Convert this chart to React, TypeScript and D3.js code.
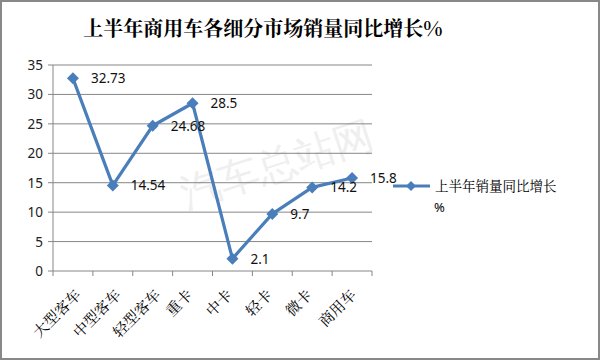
import React from "react";
import * as d3 from "d3";

const categories = ["大型客车", "中型客车", "轻型客车", "重卡", "中卡", "轻卡", "微卡", "商用车"];
const values = [32.73, 14.54, 24.68, 28.5, 2.1, 9.7, 14.2, 15.8];
const yTicks = [0, 5, 10, 15, 20, 25, 30, 35];
const title = "上半年商用车各细分市场销量同比增长%";
const seriesName = ["上半年销量同比增长", "%"];

const W = 600, H = 360;
const left = 53, right = 372, top = 65, bottom = 271;
const color = "#4A7EBB";
const serif = "'Noto Serif CJK SC','Noto Sans CJK SC', serif";
const sans = "'Noto Sans','DejaVu Sans', sans-serif";

export default function App() {
  const x = d3.scaleBand().domain(categories).range([left, right]);
  const y = d3.scaleLinear().domain([0, 35]).range([bottom, top]);
  const pts = values.map((v, i) => [x(categories[i])! + x.bandwidth() / 2, y(v)] as [number, number]);
  const line = d3.line()(pts) || "";
  const diamond = (cx: number, cy: number, r = 6) =>
    `M${cx},${cy - r}L${cx + r},${cy}L${cx},${cy + r}L${cx - r},${cy}Z`;
  const tickXs = categories.map((c) => x(c)!).concat([right]);

  return (
    <svg width={W} height={H} style={{ position: "absolute", left: 0, top: 0, background: "#fff" }}>
      <rect x={1} y={1} width={W - 2} height={H - 2} fill="#fff" stroke="#888" strokeWidth={2} />
      <text x={263} y={36} textAnchor="middle" fontFamily={serif} fontWeight="bold" fontSize={20} fill="#000">
        {title}
      </text>
      {/* watermark */}
      <text x={278} y={178} textAnchor="middle" fontFamily={sans} fontSize={40} fill="#efefef" transform="rotate(-18 278 168)">
        汽车总站网
      </text>
      {yTicks.map((t) => (
        <g key={t}>
          <line x1={left} x2={right} y1={y(t)} y2={y(t)} stroke="#868686" strokeWidth={1} />
          <line x1={left - 5} x2={left} y1={y(t)} y2={y(t)} stroke="#868686" />
          <text x={43} y={y(t) + 5} textAnchor="end" fontFamily={sans} fontSize={13.5} fill="#222">
            {t}
          </text>
        </g>
      ))}
      <line x1={left} x2={left} y1={top} y2={bottom} stroke="#868686" />
      {tickXs.map((tx, i) => (
        <line key={i} x1={tx} x2={tx} y1={bottom} y2={bottom + 5} stroke="#868686" />
      ))}
      {categories.map((c) => {
        const n = c.length;
        const cx = x(c)! + x.bandwidth() / 2 + (n - 2) * 4 + 1;
        const cy = bottom + 25;
        return (
          <text key={c} x={cx} y={cy} textAnchor="end" fontFamily={serif} fontSize={15} fill="#000"
            transform={`rotate(-45 ${cx} ${cy})`}>
            {c}
          </text>
        );
      })}
      <path d={line} fill="none" stroke={color} strokeWidth={3.2} strokeLinejoin="round" />
      {pts.map(([px, py], i) => (
        <path key={i} d={diamond(px, py)} fill={color} />
      ))}
      {pts.map(([px, py], i) => (
        <text key={"l" + i} x={px + 18} y={py + 5} fontFamily={sans} fontSize={13.5} fill="#111">
          {values[i]}
        </text>
      ))}
      {/* legend */}
      <line x1={393} x2={430} y1={186} y2={186} stroke={color} strokeWidth={3.2} />
      <path d={diamond(411, 186, 5)} fill={color} />
      <text x={435} y={191} fontFamily={serif} fontSize={13.5} fill="#000">{seriesName[0]}</text>
      <text x={434} y={212} fontFamily={sans} fontSize={13} fill="#000">{seriesName[1]}</text>
    </svg>
  );
}
